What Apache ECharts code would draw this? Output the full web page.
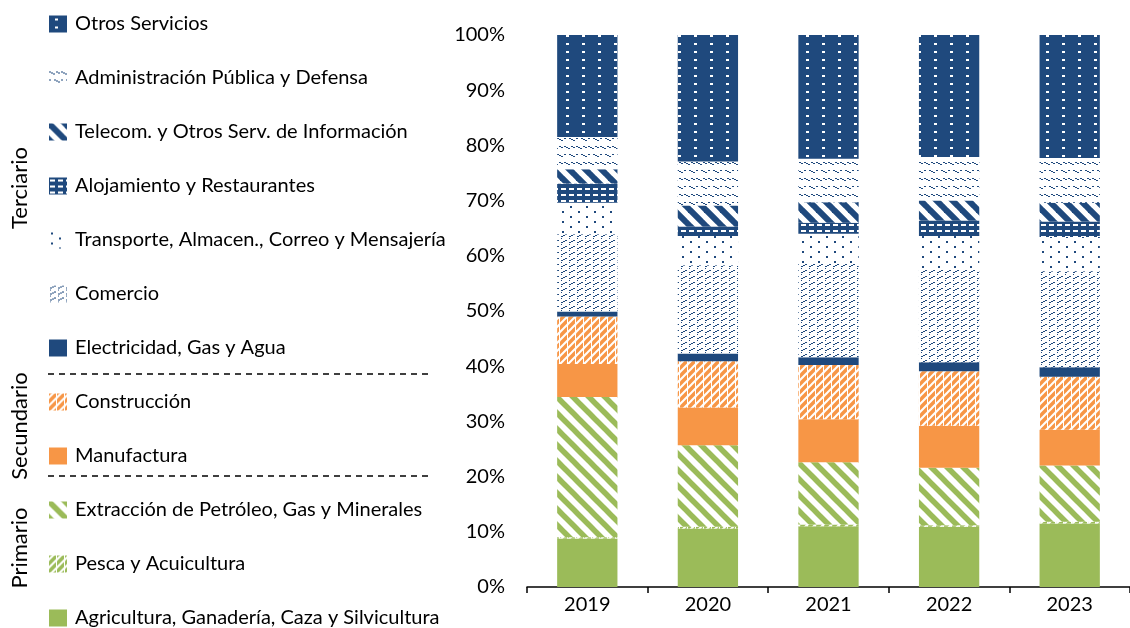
<!DOCTYPE html>
<html>
<head>
<meta charset="utf-8">
<script src="https://cdn.jsdelivr.net/npm/echarts@6/dist/echarts.min.js"></script>
<style>
  html, body { margin: 0; padding: 0; background: #fff; }
  #chart { width: 1130px; height: 628px; }
</style>
</head>
<body>
<div id="chart"></div>
<script>
// Participación de cada actividad en el total, por año (%)
const years = ['2019', '2020', '2021', '2022', '2023'];
const agricultura    = [8.8, 10.6, 11.0, 10.9, 11.5];
const pesca          = [0.2, 0.3, 0.3, 0.3, 0.3];
const extraccion     = [25.4, 14.8, 11.3, 10.4, 10.2];
const manufactura    = [6.0, 6.8, 7.8, 7.6, 6.5];
const construccion   = [8.6, 8.4, 9.8, 9.9, 9.6];
const electricidad   = [0.9, 1.4, 1.4, 1.6, 1.7];
const comercio       = [14.0, 16.0, 17.0, 16.9, 17.4];
const transporte     = [5.7, 5.3, 5.4, 6.0, 6.2];
const alojamiento    = [3.5, 1.7, 2.0, 2.8, 2.8];
const telecom        = [2.6, 3.8, 3.7, 3.6, 3.4];
const administracion = [5.8, 8.0, 7.9, 7.9, 8.1];
const otros          = [18.5, 22.9, 22.4, 22.1, 22.3];

const yTicks = [0, 10, 20, 30, 40, 50, 60, 70, 80, 90, 100];

const NAVY = '#1F497D', ORANGE = '#F79646', GREEN = '#9BBB59';
const FONT = 'Lato';

// Small repeating tiles used as texture fills
function tile(w, h, draw) {
  const c = document.createElement('canvas');
  c.width = w; c.height = h;
  const g = c.getContext('2d');
  draw(g);
  return { image: c, repeat: 'repeat' };
}
function px(g, color, pts, w, h) {
  g.fillStyle = color;
  pts.forEach(p => g.fillRect(p[0], p[1], w || 1, h || 1));
}
// navy with small white dashes
const patOtros = tile(16, 8, g => {
  g.fillStyle = NAVY; g.fillRect(0, 0, 16, 8);
  g.fillStyle = '#fff'; g.fillRect(6, 3, 3, 2);
});
// sparse short falling dashes
const patAdmin = tile(12, 16, g => {
  g.fillStyle = '#fff'; g.fillRect(0, 0, 12, 16);
  px(g, NAVY, [[0, 2], [2, 3], [4, 4], [7, 2], [9, 3], [5, 10], [7, 11], [9, 12], [0, 10]], 2, 1);
});
// wide falling stripes
const patTelecom = tile(16, 16, g => {
  g.fillStyle = '#fff'; g.fillRect(0, 0, 16, 16);
  g.strokeStyle = NAVY; g.lineWidth = 6;
  for (let k = -16; k <= 16; k += 16) {
    g.beginPath(); g.moveTo(k - 2, -2); g.lineTo(k + 18, 18); g.stroke();
  }
});
// navy with white grid openings
const patAloj = tile(8, 6, g => {
  g.fillStyle = NAVY; g.fillRect(0, 0, 8, 6);
  g.fillStyle = '#fff'; g.fillRect(1, 2, 5, 2);
});
// sparse dots
const patTransp = tile(16, 10, g => {
  g.fillStyle = '#fff'; g.fillRect(0, 0, 16, 10);
  px(g, NAVY, [[2, 1], [10, 6]], 2, 2);
});
// dense rising dashes
const patComercio = tile(8, 6, g => {
  g.fillStyle = '#fff'; g.fillRect(0, 0, 8, 6);
  px(g, NAVY, [[5, 0], [3, 1], [1, 2]], 2, 1);
  px(g, NAVY, [[1, 4]], 1, 1);
});
// rising diagonal stripes
function rising(color, size, lw) {
  return tile(size, size, g => {
    g.fillStyle = '#fff'; g.fillRect(0, 0, size, size);
    g.strokeStyle = color; g.lineWidth = lw;
    for (let k = -size; k <= size * 2; k += size) {
      g.beginPath(); g.moveTo(k - 2, size + 2); g.lineTo(k + size + 2, -2); g.stroke();
    }
    g.fillStyle = '#fff'; g.fillRect(size - 1, 0, 1, size);
  });
}
// falling diagonal stripes
const patExtr = tile(16, 16, g => {
  g.fillStyle = '#fff'; g.fillRect(0, 0, 16, 16);
  g.strokeStyle = GREEN; g.lineWidth = 5.5;
  for (let k = -16; k <= 16; k += 16) {
    g.beginPath(); g.moveTo(k - 2, -2); g.lineTo(k + 18, 18); g.stroke();
  }
});
const patConstr = rising(ORANGE, 8, 3.6);
const patPesca = rising(GREEN, 8, 3.6);

const seriesDefs = [
  ['Agricultura, Ganadería, Caza y Silvicultura', agricultura, GREEN],
  ['Pesca y Acuicultura', pesca, patPesca],
  ['Extracción de Petróleo, Gas y Minerales', extraccion, patExtr],
  ['Manufactura', manufactura, ORANGE],
  ['Construcción', construccion, patConstr],
  ['Electricidad, Gas y Agua', electricidad, NAVY],
  ['Comercio', comercio, patComercio],
  ['Transporte, Almacen., Correo y Mensajería', transporte, patTransp],
  ['Alojamiento y Restaurantes', alojamiento, patAloj],
  ['Telecom. y Otros Serv. de Información', telecom, patTelecom],
  ['Administración Pública y Defensa', administracion, patAdmin],
  ['Otros Servicios', otros, patOtros]
];

const chart = echarts.init(document.getElementById('chart'), null, { renderer: 'canvas' });

const sectorLabel = (text, y) => ({
  type: 'text', x: 9, y: y, rotation: Math.PI / 2,
  style: { text: text, font: '22px ' + FONT, fill: '#000', align: 'center', verticalAlign: 'top' }
});
const divider = y => ({
  type: 'line', shape: { x1: 48, y1: y, x2: 432, y2: y },
  style: { stroke: '#000', lineWidth: 1.5, lineDash: [6, 5] }
});

chart.setOption({
  animation: false,
  backgroundColor: '#fff',
  textStyle: { fontFamily: FONT, color: '#000' },
  grid: { left: 527, top: 35, width: 615, height: 552, containLabel: false },
  legend: {
    orient: 'vertical', left: 49, top: 14, height: 700, padding: 0,
    itemWidth: 18, itemHeight: 17, itemGap: 34,
    icon: 'rect',
    selectedMode: false,
    textStyle: { fontFamily: FONT, fontSize: 20, color: '#000', lineHeight: 17, padding: [0, 0, 0, 3] },
    data: seriesDefs.map(d => d[0]).reverse()
  },
  xAxis: {
    type: 'category', data: years,
    axisLine: { lineStyle: { color: '#000', width: 1.5 } },
    axisTick: { show: true, alignWithLabel: false, length: 6, lineStyle: { color: '#000', width: 1.5 } },
    axisLabel: { fontFamily: FONT, fontSize: 20, color: '#000', margin: 8 }
  },
  yAxis: {
    type: 'value', min: yTicks[0], max: yTicks[yTicks.length - 1], interval: 10,
    axisLine: { show: false }, axisTick: { show: false }, splitLine: { show: false },
    axisLabel: { fontFamily: FONT, fontSize: 20, color: '#000', margin: 22, formatter: '{value}%' }
  },
  series: seriesDefs.map(d => ({
    name: d[0], type: 'bar', stack: 'total', barWidth: '50%',
    data: d[1],
    itemStyle: { color: d[2] }
  })),
  graphic: [
    divider(374),
    divider(476),
    sectorLabel('Terciario', 188),
    sectorLabel('Secundario', 426),
    sectorLabel('Primario', 548)
  ]
});
</script>
</body>
</html>
